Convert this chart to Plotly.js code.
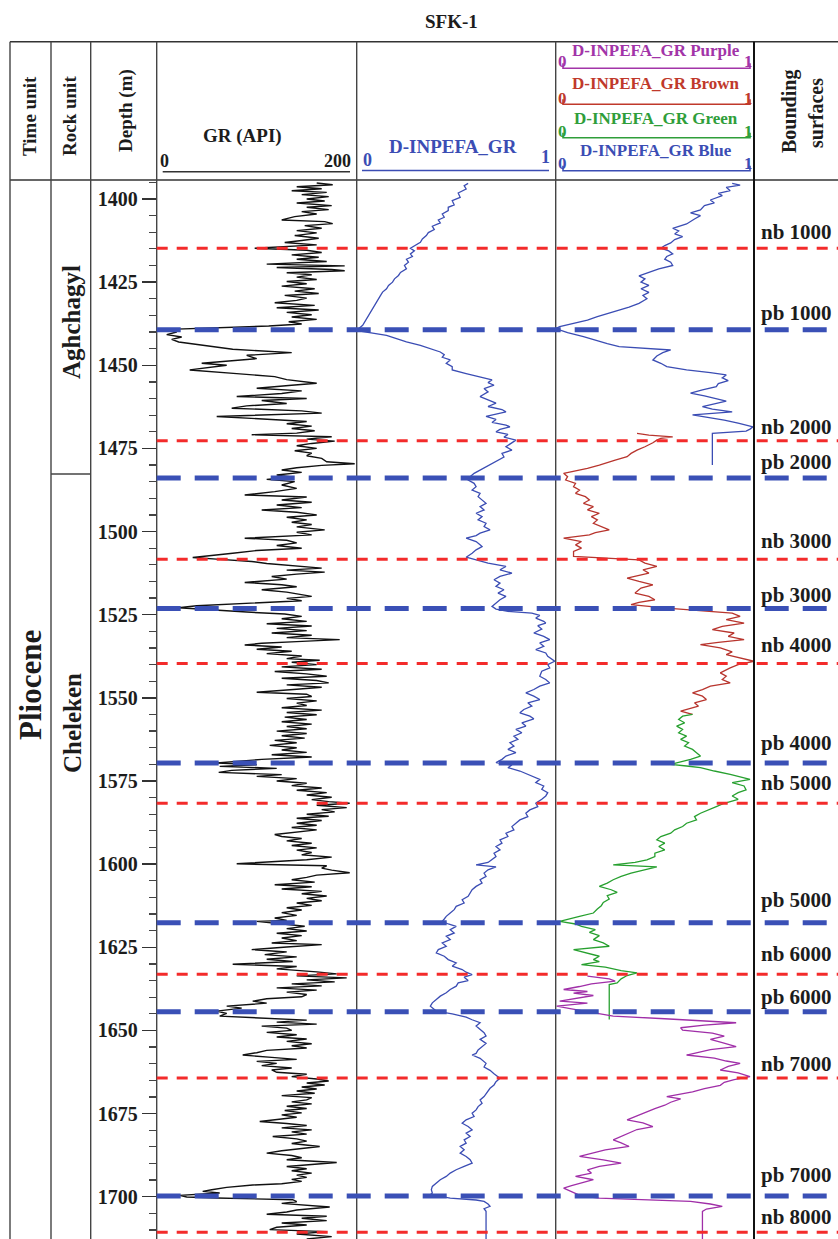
<!DOCTYPE html>
<html>
<head>
<meta charset="utf-8">
<script src="https://cdn.plot.ly/plotly-3.0.1.min.js"></script>
<style>html,body{margin:0;padding:0;background:#fff;}#chart{width:838px;height:1239px;}</style>
</head>
<body>
<div id="chart"></div>
<script>
// ---------------- DATA ----------------
const grDepth = [1395.2,1395.7,1396.3,1396.9,1397.5,1398.0,1398.7,1399.3,1400.0,1400.6,1401.2,1402.0,1402.5,1403.2,1403.8,1404.5,1405.3,1406.3,1406.8,1407.4,1408.0,1408.8,1409.5,1410.2,1411.0,1411.8,1412.5,1413.1,1413.8,1414.8,1415.4,1416.1,1416.8,1417.5,1418.1,1418.8,1419.6,1420.1,1420.6,1421.2,1421.6,1422.2,1422.8,1423.5,1424.2,1424.8,1425.5,1426.2,1427.0,1427.7,1428.4,1429.0,1429.8,1430.5,1431.2,1432.0,1432.7,1433.4,1434.1,1434.8,1435.5,1436.2,1436.9,1437.6,1438.2,1438.8,1439.2,1440.0,1440.8,1441.5,1442.2,1443.0,1443.8,1444.5,1445.2,1446.2,1447.0,1448.0,1449.4,1450.0,1450.6,1451.4,1452.5,1453.4,1454.3,1455.4,1456.0,1456.9,1457.7,1458.5,1459.4,1460.0,1460.6,1461.5,1462.2,1462.9,1463.7,1464.4,1465.4,1466.2,1466.9,1467.6,1468.3,1469.0,1469.7,1470.4,1470.9,1471.5,1472.2,1472.8,1473.5,1474.2,1475.0,1475.7,1476.4,1477.2,1478.0,1479.0,1479.6,1480.1,1480.8,1481.5,1482.2,1483.0,1483.6,1484.3,1485.0,1486.0,1487.0,1488.0,1489.0,1489.6,1490.5,1491.2,1492.0,1492.8,1493.5,1494.2,1495.0,1495.7,1496.5,1497.2,1497.9,1498.6,1499.5,1500.2,1501.0,1502.0,1502.6,1503.4,1504.2,1505.0,1505.7,1506.5,1507.3,1507.8,1508.3,1509.0,1509.6,1510.3,1511.0,1511.6,1512.2,1512.8,1513.5,1514.3,1515.3,1516.0,1516.6,1517.5,1518.2,1519.5,1520.1,1520.8,1521.5,1522.3,1522.9,1523.4,1524.2,1524.8,1525.5,1526.2,1527.0,1527.7,1528.4,1529.1,1529.8,1530.5,1531.2,1531.9,1532.5,1533.1,1533.6,1534.1,1534.7,1535.4,1536.0,1536.7,1537.4,1538.2,1538.7,1539.3,1540.0,1540.7,1541.4,1542.1,1542.8,1543.5,1544.1,1544.8,1545.5,1546.1,1546.8,1547.4,1548.3,1548.9,1549.6,1550.2,1550.9,1551.6,1552.3,1553.0,1553.7,1554.4,1555.1,1555.8,1556.5,1557.2,1557.9,1558.6,1559.3,1560.0,1560.7,1561.4,1562.1,1562.8,1563.5,1564.3,1565.0,1565.7,1566.4,1567.1,1567.8,1568.5,1569.2,1569.6,1570.1,1570.6,1571.2,1571.8,1572.4,1573.1,1573.6,1574.3,1575.0,1575.7,1576.4,1577.1,1577.8,1578.5,1579.2,1579.9,1580.6,1581.2,1581.7,1582.3,1583.0,1583.6,1584.3,1585.0,1585.6,1586.2,1586.9,1587.7,1588.3,1589.0,1589.7,1590.4,1591.1,1591.7,1592.3,1593.0,1593.7,1594.4,1595.1,1595.8,1596.5,1597.2,1597.9,1598.7,1599.9,1600.5,1601.2,1601.8,1602.6,1603.3,1604.0,1604.7,1605.4,1606.2,1606.8,1607.5,1608.2,1608.9,1609.6,1610.3,1611.0,1611.7,1612.4,1613.1,1613.8,1614.6,1615.4,1616.2,1616.9,1617.2,1617.8,1618.7,1619.4,1620.1,1620.8,1621.5,1622.2,1623.0,1623.7,1624.2,1624.9,1625.7,1626.4,1627.2,1627.9,1628.6,1629.3,1630.1,1630.8,1631.5,1632.4,1633.0,1633.6,1634.2,1634.8,1635.4,1636.0,1636.6,1637.2,1637.9,1638.5,1639.2,1639.9,1640.5,1641.2,1641.8,1642.7,1643.3,1644.2,1644.9,1645.7,1646.3,1646.9,1647.5,1648.1,1648.7,1649.3,1650.0,1650.6,1651.3,1652.0,1652.6,1653.3,1654.0,1654.6,1655.3,1656.0,1656.7,1657.4,1658.1,1658.7,1659.3,1659.9,1660.6,1661.3,1661.9,1662.6,1663.2,1663.9,1664.6,1665.2,1665.8,1666.4,1667.0,1667.6,1668.2,1668.9,1669.6,1670.2,1670.9,1671.5,1672.1,1672.8,1673.5,1674.1,1674.8,1675.4,1676.1,1676.8,1677.4,1678.0,1678.6,1679.3,1679.9,1680.5,1681.2,1681.9,1682.6,1683.3,1684.0,1684.9,1685.6,1686.2,1686.9,1687.6,1688.3,1688.9,1689.7,1690.4,1690.9,1691.6,1692.2,1692.9,1693.5,1694.2,1694.8,1695.4,1696.1,1696.5,1697.2,1697.9,1698.4,1698.9,1699.4,1699.6,1700.1,1700.4,1700.9,1701.5,1702.0,1702.5,1703.1,1704.0,1704.6,1705.3,1705.9,1706.5,1707.2,1707.9,1708.5,1709.2,1709.9,1710.5,1711.2,1712.0,1712.7];
const grValue = [160,176,140,165,135,170,145,172,150,168,140,175,150,172,145,160,138,125,168,176,148,165,140,160,138,162,145,128,160,98,150,165,135,162,140,170,110,188,120,175,188,130,155,140,160,130,150,125,158,138,162,128,150,140,118,158,120,162,130,155,135,160,132,145,112,40,12,20,10,25,15,22,40,60,76,135,90,100,45,70,55,33,80,118,130,160,135,100,145,125,80,150,105,130,90,75,145,165,60,115,150,130,155,135,158,140,95,175,150,178,155,140,160,138,155,150,165,170,198,165,140,125,145,120,135,110,138,125,140,118,88,150,125,155,120,145,105,140,160,130,150,135,155,140,168,140,155,88,130,140,120,145,100,76,50,36,60,95,110,140,165,130,168,140,115,130,88,125,140,105,130,155,130,145,92,40,22,45,90,128,145,125,150,110,155,120,150,115,155,130,183,140,105,88,125,100,135,110,145,130,163,135,160,125,165,118,150,170,125,160,172,130,165,140,100,150,155,130,160,140,150,125,165,130,160,128,150,125,155,130,150,120,150,125,148,118,140,113,140,125,150,115,155,105,80,60,100,63,120,75,62,125,100,140,120,150,135,165,140,170,150,175,155,172,193,160,190,165,178,150,172,140,165,140,160,135,160,140,118,125,145,130,155,135,160,140,155,145,175,150,80,170,165,175,193,160,150,135,158,118,155,125,165,145,170,150,165,140,155,130,145,125,140,118,130,100,120,148,130,150,120,145,125,140,115,165,130,95,130,108,140,110,136,76,140,120,160,180,140,190,150,178,135,165,120,160,130,150,145,110,96,110,70,85,60,70,63,100,150,120,160,105,130,135,110,140,120,150,130,155,135,150,110,100,86,115,140,100,120,105,135,115,120,150,135,160,172,150,168,145,160,140,158,125,155,150,135,155,130,150,128,145,125,140,120,103,130,150,125,155,135,150,116,140,150,135,163,140,125,110,135,145,130,180,150,130,150,135,155,140,150,135,145,125,96,70,55,46,63,40,23,30,60,136,140,125,150,173,140,130,110,170,145,170,125,150,120,113,170,140,175,150];

const inpefaDepth = [1395.3,1396.0,1397.0,1398.2,1399.5,1400.5,1401.8,1402.5,1403.5,1404.5,1405.5,1406.3,1407.2,1408.2,1409.2,1410.1,1411.0,1412.0,1413.0,1414.0,1414.8,1415.6,1416.5,1417.3,1418.1,1419.0,1420.0,1421.0,1422.1,1423.0,1424.0,1425.0,1426.0,1427.0,1428.0,1429.0,1430.0,1431.0,1432.0,1433.0,1434.0,1435.0,1436.0,1437.0,1438.0,1439.0,1439.6,1440.3,1441.0,1442.0,1443.0,1444.0,1445.0,1446.0,1446.8,1447.6,1448.4,1449.4,1450.4,1451.4,1452.5,1453.5,1454.4,1455.2,1456.0,1457.0,1458.0,1459.4,1460.4,1461.4,1462.4,1463.3,1464.0,1465.0,1465.4,1466.3,1467.2,1468.0,1468.5,1469.3,1470.0,1470.8,1471.6,1472.5,1473.2,1474.5,1475.5,1476.5,1477.6,1478.9,1479.7,1480.5,1481.5,1482.5,1483.5,1484.5,1485.5,1486.5,1487.5,1488.5,1489.5,1490.5,1491.5,1492.5,1493.5,1494.5,1495.5,1496.5,1497.5,1498.5,1499.5,1500.5,1501.2,1502.0,1503.0,1504.0,1504.5,1505.5,1506.5,1507.7,1508.5,1509.5,1510.5,1511.5,1512.5,1513.5,1514.5,1515.5,1516.5,1517.5,1518.5,1519.5,1520.5,1521.5,1522.5,1523.3,1524.0,1524.5,1525.2,1526.0,1527.0,1527.5,1528.3,1529.3,1530.5,1531.5,1532.5,1533.5,1534.5,1535.5,1536.5,1537.5,1538.3,1539.0,1540.0,1541.0,1542.0,1543.5,1544.5,1545.5,1546.5,1547.5,1548.5,1549.5,1550.5,1551.5,1552.5,1553.5,1554.5,1555.5,1556.3,1557.5,1558.5,1559.5,1560.5,1561.5,1562.5,1563.5,1564.5,1565.5,1566.5,1567.5,1568.5,1569.5,1570.2,1571.0,1572.0,1573.0,1574.5,1575.5,1576.5,1577.5,1578.5,1579.5,1580.5,1581.7,1582.7,1583.7,1584.7,1585.7,1586.7,1587.7,1588.7,1589.7,1590.7,1591.7,1592.7,1593.7,1594.7,1595.7,1596.7,1597.7,1598.5,1599.5,1600.2,1600.8,1601.7,1602.7,1603.7,1604.7,1605.7,1606.7,1607.7,1608.7,1609.7,1610.7,1611.7,1612.7,1613.7,1614.7,1615.7,1616.5,1617.2,1618.0,1618.7,1619.7,1620.7,1621.7,1622.7,1623.7,1624.7,1625.7,1626.7,1627.7,1628.7,1629.7,1630.7,1631.7,1632.5,1633.2,1634.0,1635.0,1635.7,1636.7,1637.7,1638.7,1639.7,1640.7,1641.7,1642.7,1643.7,1644.2,1645.0,1646.0,1646.8,1647.7,1648.7,1649.7,1650.7,1651.7,1652.7,1653.9,1654.9,1655.9,1656.9,1657.4,1658.4,1659.9,1661.0,1662.0,1663.0,1664.4,1665.4,1666.4,1667.4,1668.9,1669.9,1670.9,1671.9,1672.9,1673.9,1674.9,1675.9,1676.9,1677.9,1678.9,1679.9,1680.9,1681.9,1682.9,1683.9,1684.9,1685.9,1686.9,1687.9,1688.9,1689.9,1690.9,1691.9,1692.9,1693.9,1694.9,1695.9,1696.9,1697.9,1698.9,1699.4,1700.0,1700.4,1701.0,1701.4,1702.2,1702.9,1703.6,1704.4,1712.7];
const inpefaValue = [0.56,0.54,0.55,0.51,0.52,0.48,0.49,0.46,0.46,0.43,0.44,0.41,0.42,0.38,0.39,0.36,0.35,0.33,0.32,0.29,0.27,0.29,0.27,0.28,0.25,0.26,0.24,0.25,0.22,0.21,0.19,0.18,0.16,0.15,0.13,0.12,0.11,0.10,0.09,0.08,0.07,0.06,0.05,0.04,0.03,0.01,0.005,0.08,0.15,0.20,0.25,0.32,0.37,0.42,0.44,0.43,0.47,0.45,0.48,0.48,0.55,0.62,0.68,0.66,0.69,0.64,0.66,0.62,0.66,0.70,0.66,0.73,0.75,0.68,0.65,0.70,0.68,0.75,0.77,0.72,0.70,0.76,0.74,0.80,0.78,0.75,0.78,0.73,0.74,0.70,0.68,0.65,0.62,0.59,0.57,0.56,0.59,0.60,0.58,0.62,0.61,0.63,0.65,0.62,0.64,0.60,0.63,0.61,0.65,0.64,0.67,0.62,0.60,0.55,0.60,0.62,0.63,0.60,0.58,0.55,0.60,0.66,0.75,0.72,0.78,0.72,0.69,0.72,0.70,0.74,0.71,0.75,0.72,0.70,0.68,0.70,0.76,0.88,0.92,0.90,0.94,0.95,0.91,0.93,0.89,0.94,0.97,0.92,0.94,0.90,0.95,0.96,0.98,0.995,0.96,0.97,0.93,0.92,0.95,0.97,0.92,0.89,0.85,0.89,0.92,0.86,0.88,0.84,0.82,0.87,0.89,0.83,0.85,0.80,0.83,0.79,0.81,0.77,0.79,0.76,0.80,0.75,0.73,0.70,0.78,0.76,0.82,0.86,0.92,0.90,0.94,0.93,0.96,0.95,0.93,0.90,0.91,0.87,0.85,0.86,0.82,0.80,0.78,0.79,0.75,0.76,0.72,0.73,0.70,0.72,0.69,0.70,0.68,0.66,0.60,0.70,0.66,0.64,0.65,0.62,0.63,0.60,0.58,0.57,0.56,0.53,0.54,0.50,0.49,0.47,0.45,0.44,0.43,0.46,0.50,0.47,0.49,0.45,0.47,0.43,0.45,0.41,0.40,0.44,0.46,0.50,0.48,0.53,0.55,0.58,0.54,0.56,0.51,0.50,0.47,0.45,0.42,0.40,0.38,0.37,0.39,0.40,0.48,0.55,0.58,0.62,0.60,0.62,0.64,0.65,0.62,0.65,0.63,0.61,0.60,0.58,0.62,0.65,0.64,0.67,0.69,0.72,0.70,0.69,0.67,0.65,0.64,0.62,0.63,0.61,0.60,0.58,0.59,0.55,0.53,0.56,0.58,0.55,0.57,0.54,0.55,0.52,0.54,0.52,0.55,0.57,0.58,0.54,0.50,0.47,0.45,0.42,0.40,0.38,0.375,0.38,0.37,0.42,0.47,0.60,0.64,0.66,0.67,0.64,0.65,0.65];

const blueDepth = [1395.3,1395.8,1396.5,1397.5,1398.3,1399.0,1400.3,1401.2,1402.0,1403.3,1404.2,1405.0,1406.0,1407.5,1408.8,1409.6,1410.5,1411.3,1412.2,1413.2,1414.0,1414.8,1415.6,1416.5,1417.3,1418.1,1419.0,1420.0,1421.0,1422.0,1423.1,1424.0,1425.0,1426.0,1427.0,1428.1,1429.0,1430.0,1431.4,1432.5,1433.5,1434.4,1435.4,1436.4,1437.4,1438.4,1439.0,1440.2,1441.4,1442.5,1443.5,1444.4,1445.0,1445.4,1446.2,1447.2,1448.4,1449.4,1450.4,1451.4,1452.2,1452.9,1453.8,1454.6,1455.5,1456.4,1457.4,1458.4,1459.2,1460.0,1460.8,1461.6,1462.4,1463.2,1464.0,1464.9,1465.7,1466.5,1467.4,1468.0,1468.5,1469.2,1469.8,1470.5,1480.0];
const blueValue = [0.89,0.93,0.86,0.88,0.82,0.84,0.78,0.80,0.75,0.73,0.68,0.73,0.70,0.66,0.59,0.62,0.60,0.64,0.60,0.58,0.55,0.53,0.57,0.59,0.56,0.55,0.58,0.59,0.52,0.47,0.42,0.45,0.43,0.47,0.43,0.47,0.44,0.46,0.42,0.37,0.31,0.26,0.21,0.16,0.09,0.02,0.00,0.06,0.14,0.20,0.26,0.32,0.46,0.58,0.54,0.51,0.49,0.53,0.56,0.66,0.78,0.86,0.84,0.87,0.82,0.81,0.74,0.68,0.75,0.81,0.86,0.80,0.74,0.79,0.89,0.69,0.78,0.85,0.92,0.96,0.995,0.98,0.96,0.79,0.79];

const brownDepth = [1470.5,1471.0,1471.5,1472.0,1472.5,1473.3,1474.5,1475.5,1476.5,1477.5,1478.5,1479.3,1480.0,1481.0,1482.0,1482.5,1483.5,1484.5,1485.5,1486.5,1487.5,1488.5,1489.5,1490.5,1491.5,1492.5,1493.5,1494.5,1495.5,1496.5,1497.5,1498.5,1499.5,1500.3,1501.0,1502.0,1503.0,1504.0,1505.0,1506.0,1507.5,1508.5,1509.5,1510.5,1511.5,1512.5,1514.0,1515.0,1516.0,1517.0,1518.5,1519.5,1520.5,1521.3,1522.0,1523.0,1524.5,1525.5,1526.5,1527.5,1528.5,1529.5,1530.5,1531.5,1532.5,1533.3,1534.0,1535.0,1536.2,1537.0,1538.0,1539.0,1540.0,1541.0,1542.5,1543.5,1544.5,1545.5,1546.5,1547.5,1548.5,1549.5,1550.5,1551.5,1552.5,1554.0,1555.0];
const brownValue = [0.41,0.47,0.59,0.53,0.51,0.49,0.45,0.41,0.38,0.36,0.30,0.26,0.22,0.16,0.09,0.04,0.06,0.05,0.10,0.09,0.12,0.10,0.15,0.17,0.14,0.19,0.16,0.22,0.18,0.21,0.19,0.23,0.27,0.20,0.17,0.04,0.13,0.10,0.13,0.09,0.09,0.42,0.45,0.51,0.44,0.47,0.36,0.42,0.49,0.43,0.40,0.47,0.50,0.42,0.38,0.56,0.89,0.93,0.86,0.95,0.84,0.79,0.90,0.87,0.95,0.82,0.73,0.83,0.89,0.86,0.93,1.00,0.92,0.88,0.83,0.86,0.84,0.88,0.78,0.74,0.69,0.74,0.76,0.70,0.72,0.63,0.69];

const greenDepth = [1555.0,1555.5,1556.5,1557.5,1558.5,1559.5,1560.5,1561.5,1562.5,1563.5,1564.5,1565.5,1566.5,1567.5,1568.5,1569.5,1570.0,1570.5,1571.0,1572.0,1573.0,1574.5,1575.5,1576.5,1577.7,1578.5,1579.5,1580.5,1581.7,1582.7,1583.7,1584.7,1585.7,1586.7,1587.7,1588.7,1589.7,1590.7,1591.7,1592.7,1593.7,1594.7,1595.7,1596.7,1597.7,1598.7,1599.5,1600.2,1600.8,1601.7,1602.7,1603.7,1604.7,1605.7,1606.7,1607.7,1608.5,1609.5,1610.5,1611.5,1612.5,1613.5,1614.7,1615.7,1616.5,1617.2,1618.0,1618.7,1619.7,1620.5,1621.5,1622.7,1623.7,1624.7,1625.7,1626.7,1627.7,1628.7,1629.3,1630.2,1631.0,1632.0,1632.7,1633.5,1634.5,1635.7,1636.2,1646.7];
const greenValue = [0.69,0.64,0.62,0.65,0.61,0.64,0.62,0.66,0.63,0.67,0.65,0.69,0.71,0.73,0.68,0.62,0.58,0.66,0.73,0.80,0.88,0.98,0.89,0.95,0.96,0.92,0.89,0.92,0.85,0.81,0.77,0.73,0.70,0.71,0.66,0.64,0.60,0.58,0.53,0.51,0.55,0.52,0.55,0.50,0.50,0.46,0.40,0.29,0.51,0.45,0.38,0.33,0.29,0.26,0.22,0.28,0.31,0.26,0.27,0.24,0.23,0.21,0.19,0.12,0.06,0.02,0.10,0.13,0.20,0.17,0.22,0.19,0.24,0.27,0.09,0.15,0.22,0.19,0.22,0.13,0.25,0.33,0.41,0.36,0.33,0.31,0.27,0.27];

const purpleDepth = [1633.7,1634.5,1635.2,1636.0,1636.8,1637.7,1638.3,1638.8,1639.5,1640.3,1641.2,1641.8,1642.7,1643.5,1644.5,1645.7,1646.5,1647.2,1647.7,1648.4,1649.2,1649.9,1650.8,1651.7,1652.7,1653.7,1654.9,1655.8,1656.6,1657.4,1658.3,1659.2,1659.9,1660.8,1661.9,1662.8,1663.9,1664.8,1665.6,1666.5,1667.5,1668.5,1669.9,1670.6,1671.6,1672.5,1673.5,1674.5,1675.5,1676.9,1677.8,1678.9,1679.8,1680.9,1682.0,1682.9,1683.8,1684.9,1685.9,1686.9,1687.9,1688.9,1689.9,1690.9,1691.9,1692.9,1693.9,1694.9,1695.9,1696.7,1697.4,1698.2,1699.0,1699.8,1700.4,1701.0,1701.4,1702.2,1702.9,1703.7,1704.4,1712.7];
const purpleValue = [0.16,0.27,0.30,0.18,0.12,0.04,0.16,0.09,0.19,0.10,0.02,0.16,0.005,0.08,0.18,0.29,0.55,0.80,0.91,0.75,0.63,0.64,0.79,0.85,0.78,0.84,0.91,0.78,0.72,0.66,0.80,0.86,0.93,0.87,0.83,0.92,0.98,0.90,0.85,0.83,0.75,0.69,0.56,0.63,0.58,0.55,0.50,0.46,0.42,0.36,0.44,0.49,0.41,0.37,0.33,0.29,0.33,0.37,0.25,0.18,0.12,0.24,0.33,0.22,0.16,0.18,0.10,0.19,0.12,0.08,0.04,0.07,0.10,0.13,0.22,0.45,0.68,0.78,0.84,0.76,0.74,0.74];

// Bounding surfaces
const nbDepths = [1414.8,1472.7,1508.3,1539.7,1581.7,1633.1,1664.3,1710.7];
const pbDepths = [1439.3,1483.9,1523.1,1569.6,1617.6,1644.4,1699.8];
const surfaceLabels = ['nb 1000','pb 1000','nb 2000','pb 2000','nb 3000','pb 3000','nb 4000','pb 4000','nb 5000','pb 5000','nb 6000','pb 6000','nb 7000','pb 7000','nb 8000'];
const surfaceLabelY = [231.7,312.7,426.7,461.7,540.7,595,645,743.3,783.3,900,954.3,996.7,1064.3,1175,1216.7];

// ---------------- LAYOUT HELPERS ----------------
const W = 838, H = 1239;
const px = X => X / W;
const py = Y => 1 - Y / H;
const SERIF = 'Liberation Serif, Times New Roman, serif';
const INK = '#1c1c1c';
const C = {purple:'#a234a8', brown:'#c0392b', green:'#2f9e3a', blue:'#3b4db4', red:'#f32b2b', dash:'#3a50b6'};

const shapes = [];
function seg(X0,Y0,X1,Y1,color,width){
  shapes.push({type:'line',xref:'paper',yref:'paper',x0:px(X0),y0:py(Y0),x1:px(X1),y1:py(Y1),line:{color:color,width:width},layer:'above'});
}
// frame
seg(10,41.7,W,41.7,'#333',1.5);
seg(10,180,W,180,'#333',1.5);
[10,51,90.7,156.7,356.7,555.7].forEach(X=>seg(X,41.7,X,H,'#444',1.4));
seg(754,41.7,754,H,'#111',2);
seg(51,474,90.7,474,'#444',1.4);
// header scale lines
seg(162.7,171.7,350,171.7,'#333',1.6);
seg(362,170.5,549,170.5,C.blue,1.6);
function scalePath(Y,color){
  shapes.push({type:'path',xref:'paper',yref:'paper',
    path:`M ${px(563)},${py(Y-5)} L ${px(563)},${py(Y)} L ${px(750)},${py(Y)} L ${px(750)},${py(Y-5)}`,
    line:{color:color,width:1.6}});
}
scalePath(68.3,C.purple); scalePath(104.3,C.brown); scalePath(137.7,C.green); scalePath(170.7,C.blue);
// dashed boundary lines
nbDepths.forEach(d=>shapes.push({type:'line',xref:'paper',yref:'y',x0:px(156.7),x1:1,y0:d,y1:d,line:{color:C.red,width:3,dash:'11px,9px'},layer:'above'}));
pbDepths.forEach(d=>shapes.push({type:'line',xref:'paper',yref:'y',x0:px(156.7),x1:1,y0:d,y1:d,line:{color:C.dash,width:5,dash:'24px,14px'},layer:'above'}));

const annotations = [];
function ann(text,X,Y,size,color,opts){
  annotations.push(Object.assign({text:text,xref:'paper',yref:'paper',x:px(X),y:py(Y),showarrow:false,
    xanchor:'center',yanchor:'middle',font:{family:SERIF,size:size,color:color}},opts||{}));
}
ann('<b>SFK-1</b>',451,22,19,INK);
ann('<b>Time unit</b>',30,116,19,INK,{textangle:-90});
ann('<b>Rock unit</b>',70,116,19,INK,{textangle:-90});
ann('<b>Depth (m)</b>',126,111,19,INK,{textangle:-90});
ann('<b>Bounding</b>',789,112,20,INK,{textangle:-90});
ann('<b>surfaces</b>',816,113,20,INK,{textangle:-90});
ann('<b>GR (API)</b>',242,136,19,INK);
ann('<b>0</b>',164,161,18,INK);
ann('<b>200</b>',353,161,18,INK,{xanchor:'right'});
ann('<b>D-INPEFA_GR</b>',453,146,19,C.blue);
ann('<b>0</b>',367,160,18,C.blue);
ann('<b>1</b>',545,157,18,C.blue);
const hdr = [['D-INPEFA_GR Purple',C.purple,51,61.7],['D-INPEFA_GR Brown',C.brown,83,98.3],['D-INPEFA_GR Green',C.green,118,131.7],['D-INPEFA_GR Blue',C.blue,150,163]];
hdr.forEach(h=>{
  ann('<b>'+h[0]+'</b>',656,h[2],17,h[1]);
  ann('<b>0</b>',562.5,h[3],17,h[1]);
  ann('<b>1</b>',748.5,h[3],17,h[1]);
});
ann('<b>Pliocene</b>',30,685,31,INK,{textangle:-90});
ann('<b>Aghchagyl</b>',71,322,25,INK,{textangle:-90});
ann('<b>Cheleken</b>',72,723,25,INK,{textangle:-90});
surfaceLabels.forEach((t,i)=>ann('<b>'+t+'</b>',759,surfaceLabelY[i],21,INK,{xanchor:'left'}));

// ---------------- TRACES ----------------
const traces = [
  {x:grValue,y:grDepth,xaxis:'x',yaxis:'y',type:'scatter',mode:'lines',line:{color:'#111',width:1.4},hoverinfo:'skip'},
  {x:inpefaValue,y:inpefaDepth,xaxis:'x2',yaxis:'y',type:'scatter',mode:'lines',line:{color:C.blue,width:1.3},hoverinfo:'skip'},
  {x:blueValue,y:blueDepth,xaxis:'x3',yaxis:'y',type:'scatter',mode:'lines',line:{color:C.blue,width:1.3},hoverinfo:'skip'},
  {x:brownValue,y:brownDepth,xaxis:'x3',yaxis:'y',type:'scatter',mode:'lines',line:{color:'#b8352e',width:1.3},hoverinfo:'skip'},
  {x:greenValue,y:greenDepth,xaxis:'x3',yaxis:'y',type:'scatter',mode:'lines',line:{color:'#27a02f',width:1.3},hoverinfo:'skip'},
  {x:purpleValue,y:purpleDepth,xaxis:'x3',yaxis:'y',type:'scatter',mode:'lines',line:{color:'#a02fa8',width:1.3},hoverinfo:'skip'}
];

const hiddenX = {visible:false,showgrid:false,zeroline:false,fixedrange:true};
const layout = {
  width:W,height:H,margin:{l:0,r:0,t:0,b:0},
  paper_bgcolor:'#fff',plot_bgcolor:'rgba(0,0,0,0)',showlegend:false,
  xaxis:Object.assign({domain:[px(156.7),px(356.7)],range:[0,200],anchor:'y'},hiddenX),
  xaxis2:Object.assign({domain:[px(356.7),px(555.7)],range:[0,1],anchor:'y'},hiddenX),
  xaxis3:Object.assign({domain:[px(555.7),px(754)],range:[0,1],anchor:'y'},hiddenX),
  yaxis:{domain:[0,py(180)],range:[1712.72,1394.29],anchor:'free',position:px(156.7),side:'left',
    showgrid:false,zeroline:false,showline:false,automargin:false,
    tick0:1400,dtick:25,ticks:'outside',ticklen:15,tickwidth:1.5,tickcolor:'#333',
    tickfont:{family:SERIF,size:20,color:INK,weight:'bold'},
    minor:{tick0:1400,dtick:5,ticks:'outside',ticklen:8,tickwidth:1.2,tickcolor:'#444',showgrid:false}},
  shapes:shapes,annotations:annotations
};
Plotly.newPlot('chart',traces,layout,{staticPlot:true,displayModeBar:false});
</script>
</body>
</html>
